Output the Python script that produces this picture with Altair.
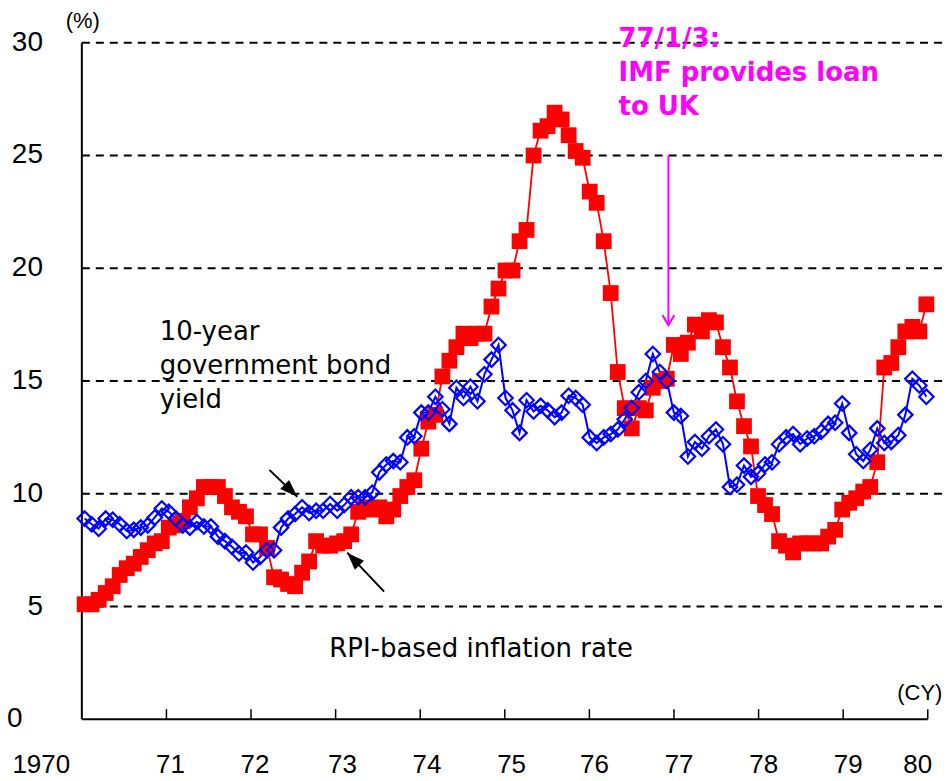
import altair as alt
import pandas as pd

# ---------------- data ----------------
year_ticks = [1970, 1971, 1972, 1973, 1974, 1975, 1976, 1977, 1978, 1979, 1980]
year_labels = ["1970", "71", "72", "73", "74", "75", "76", "77", "78", "79", "80"]
y_ticks = [0, 5, 10, 15, 20, 25, 30]
y_labels = ["0", "5", "10", "15", "20", "25", "30"]
grid_vals = [5, 10, 15, 20, 25, 30]

# RPI-based inflation rate, monthly Jan-1970 .. Jan-1980 (%)
rpi = [5.1, 5.1, 5.3, 5.6, 5.9, 6.4, 6.7, 6.9, 7.2, 7.5, 7.8, 7.9,
       8.5, 8.6, 8.8, 9.4, 9.8, 10.3, 10.3, 10.3, 9.9, 9.4, 9.2, 9.0,
       8.2, 8.2, 7.6, 6.3, 6.2, 6.0, 5.9, 6.5, 7.0, 7.9, 7.7, 7.7,
       7.8, 7.9, 8.2, 9.2, 9.4, 9.3, 9.4, 9.0, 9.3, 9.9, 10.3, 10.6,
       12.0, 13.2, 13.5, 15.2, 15.9, 16.5, 17.1, 16.9, 17.1, 17.1, 18.3, 19.1,
       19.9, 19.9, 21.2, 21.7, 25.0, 26.1, 26.3, 26.9, 26.6, 25.9, 25.2, 24.9,
       23.4, 22.9, 21.2, 18.9, 15.4, 13.8, 12.9, 13.8, 13.7, 14.7, 15.0, 15.1,
       16.6, 16.2, 16.7, 17.5, 17.2, 17.7, 17.6, 16.5, 15.6, 14.1, 13.0, 12.1,
       9.9, 9.5, 9.1, 7.9, 7.7, 7.4, 7.8, 7.8, 7.8, 7.8, 8.1, 8.4,
       9.3, 9.6, 9.8, 10.1, 10.3, 11.4, 15.6, 15.8, 16.5, 17.2, 17.4, 17.2,
       18.4]

# 10-year government bond yield, monthly Jan-1970 .. Jan-1980 (%)
gilt = [8.9, 8.65, 8.45, 8.9, 8.85, 8.65, 8.35, 8.4, 8.5, 8.6, 8.95, 9.35,
        9.2, 8.9, 8.6, 8.5, 8.75, 8.55, 8.55, 8.1, 7.9, 7.65, 7.35, 7.4,
        6.95, 7.2, 7.5, 7.5, 8.5, 8.9, 9.1, 9.4, 9.15, 9.25, 9.25, 9.55,
        9.25, 9.5, 9.85, 9.85, 9.85, 10.05, 10.95, 11.3, 11.45, 11.4, 12.5, 12.55,
        13.6, 13.6, 14.3, 13.75, 13.1, 14.7, 14.25, 14.75, 14.1, 15.3, 15.95, 16.6,
        14.25, 13.7, 12.7, 14.15, 13.65, 13.9, 13.7, 13.4, 13.6, 14.35, 14.25, 13.95,
        12.5, 12.25, 12.5, 12.65, 12.85, 13.3, 13.8, 14.5, 15.0, 16.2, 15.4, 15.0,
        13.6, 13.45, 11.65, 12.3, 12.0, 12.55, 12.85, 12.2, 10.3, 10.4, 11.25, 10.75,
        10.9, 11.3, 11.4, 12.2, 12.5, 12.65, 12.2, 12.45, 12.55, 12.75, 13.1, 13.15,
        14.0, 12.7, 11.75, 11.45, 11.95, 12.9, 12.25, 12.3, 12.6, 13.5, 15.1, 14.8,
        14.3]

n = len(rpi)
pos = [1970 + (i + 0.4) * 10 / 120.6 for i in range(n)]

FONT = "Liberation Sans"
TFONT = "DejaVu Sans"
XMAX = 1980.18

df_rpi = pd.DataFrame({"t": pos, "v": rpi})
df_gilt = pd.DataFrame({"t": pos, "v": gilt})

X = alt.X("t:Q", title=None, axis=None,
          scale=alt.Scale(domain=[1970, XMAX], nice=False, zero=False))
Y = alt.Y("v:Q", title=None, axis=None,
          scale=alt.Scale(domain=[0, 30], nice=False))
X2 = alt.X2("t2:Q")
Y2 = alt.Y2("v2:Q")

# axis labels (placed as text, as in the original)
xlab_shift = [-0.48, 0.047, 0.047, 0.08, 0.08, 0.08, 0.06, 0.06, 0.06, 0.06, -0.12]
xlab_df = pd.DataFrame({"t": [y + s for y, s in zip(year_ticks, xlab_shift)],
                        "v": [-2.03] * len(year_ticks), "label": year_labels})
xlabs = alt.Chart(xlab_df).mark_text(align="center", baseline="middle", font=FONT,
                                     fontSize=26, color="black").encode(x=X, y=Y, text="label:N")
ylab_df = pd.DataFrame({"t": [1969.30] + [1969.54] * 6, "v": y_ticks, "label": y_labels})
ylabs = alt.Chart(ylab_df).mark_text(align="right", baseline="middle", font=FONT,
                                     fontSize=28, color="black").encode(x=X, y=Y, text="label:N")

# gridlines
grid_df = pd.DataFrame({"v": grid_vals, "t": [1970] * len(grid_vals), "t2": [XMAX] * len(grid_vals)})
grid = alt.Chart(grid_df).mark_rule(color="black", strokeWidth=2, strokeDash=[8, 6]).encode(x=X, x2=X2, y=Y)

# axis lines
yaxis_df = pd.DataFrame({"t": [1970], "v": [0], "v2": [30]})
yaxis = alt.Chart(yaxis_df).mark_rule(color="black", strokeWidth=2).encode(x=X, y=Y, y2=Y2)
xaxis_df = pd.DataFrame({"t": [1970], "t2": [1980], "v": [0]})
xaxis = alt.Chart(xaxis_df).mark_rule(color="black", strokeWidth=2).encode(x=X, x2=X2, y=Y)
tick_df = pd.DataFrame({"t": year_ticks[1:], "v": [0] * 10, "v2": [0.45] * 10})
ticks = alt.Chart(tick_df).mark_rule(color="black", strokeWidth=1.5).encode(x=X, y=Y, y2=Y2)

# series
blue_line = alt.Chart(df_gilt).mark_line(color="#0000FF", strokeWidth=2).encode(x=X, y=Y)
red_line = alt.Chart(df_rpi).mark_line(color="#FF0000", strokeWidth=1.8).encode(x=X, y=Y)
red_pts = alt.Chart(df_rpi).mark_point(shape="square", filled=True, size=250,
                                       color="#FF0000", opacity=1).encode(x=X, y=Y)
blue_pts = alt.Chart(df_gilt).mark_point(shape="diamond", filled=False, size=210,
                                         color="#0000FF", strokeWidth=2.2, opacity=1).encode(x=X, y=Y)

# annotations
txt_df = pd.DataFrame({
    "t": [1970.92, 1970.92, 1970.92, 1972.925],
    "v": [17.17, 15.66, 14.16, 3.10],
    "label": ["10-year", "government bond", "yield", "RPI-based inflation rate"],
})
texts = alt.Chart(txt_df).mark_text(align="left", baseline="middle", font=TFONT,
                                    fontSize=26, color="black").encode(x=X, y=Y, text="label:N")

unit_df = pd.DataFrame({"t": [1970.01, 1979.906], "v": [30.97, 1.15], "label": ["(%)", "(CY)"]})
units = alt.Chart(unit_df).mark_text(align="center", baseline="middle", font=FONT,
                                     fontSize=22, color="black").encode(x=X, y=Y, text="label:N")

imf_df = pd.DataFrame({"t": [1976.344] * 3, "v": [30.18, 28.67, 27.17],
                       "label": ["77/1/3:", "IMF provides loan", "to UK"]})
imf = alt.Chart(imf_df).mark_text(align="left", baseline="middle", font=TFONT, fontSize=26,
                                  fontWeight="bold", color="#FF00FF").encode(x=X, y=Y, text="label:N")

arrow_df = pd.DataFrame({"t": [1972.217, 1973.573], "v": [11.06, 5.66],
                         "t2": [1972.547, 1973.137], "v2": [9.87, 7.39]})
arrows = alt.Chart(arrow_df).mark_rule(color="black", strokeWidth=2).encode(x=X, y=Y, x2=X2, y2=Y2)
head_path = "M0,0L0.8,2.2L-0.8,2.2Z"
head1 = alt.Chart(pd.DataFrame({"t": [1972.547], "v": [9.87]})).mark_point(
    shape=head_path, filled=True, size=256, angle=134, color="black", opacity=1).encode(x=X, y=Y)
head2 = alt.Chart(pd.DataFrame({"t": [1973.137], "v": [7.39]})).mark_point(
    shape=head_path, filled=True, size=256, angle=316, color="black", opacity=1).encode(x=X, y=Y)

mag_df = pd.DataFrame({"t": [1976.934], "v": [25.0], "v2": [17.48]})
mag_line = alt.Chart(mag_df).mark_rule(color="#FF00FF", strokeWidth=2).encode(x=X, y=Y, y2=Y2)
mag_head = alt.Chart(pd.DataFrame({"t": [1976.934], "v": [17.48]})).mark_point(
    shape="M-1.2,-2L0,0L1.2,-2", filled=False, size=100, strokeWidth=2,
    color="#FF00FF", opacity=1).encode(x=X, y=Y)

chart = alt.layer(
    grid, yaxis, xaxis, ticks, xlabs, ylabs,
    blue_line, red_line, red_pts, blue_pts,
    texts, units, imf, arrows, head1, head2, mag_line, mag_head,
).properties(
    width=863, height=678,
    autosize=alt.AutoSizeParams(type="none"),
    padding={"left": 74, "top": 34, "right": 0, "bottom": 60},
).configure_view(stroke=None)

chart.save("out.html", embed_options={"renderer": "svg", "actions": False})
